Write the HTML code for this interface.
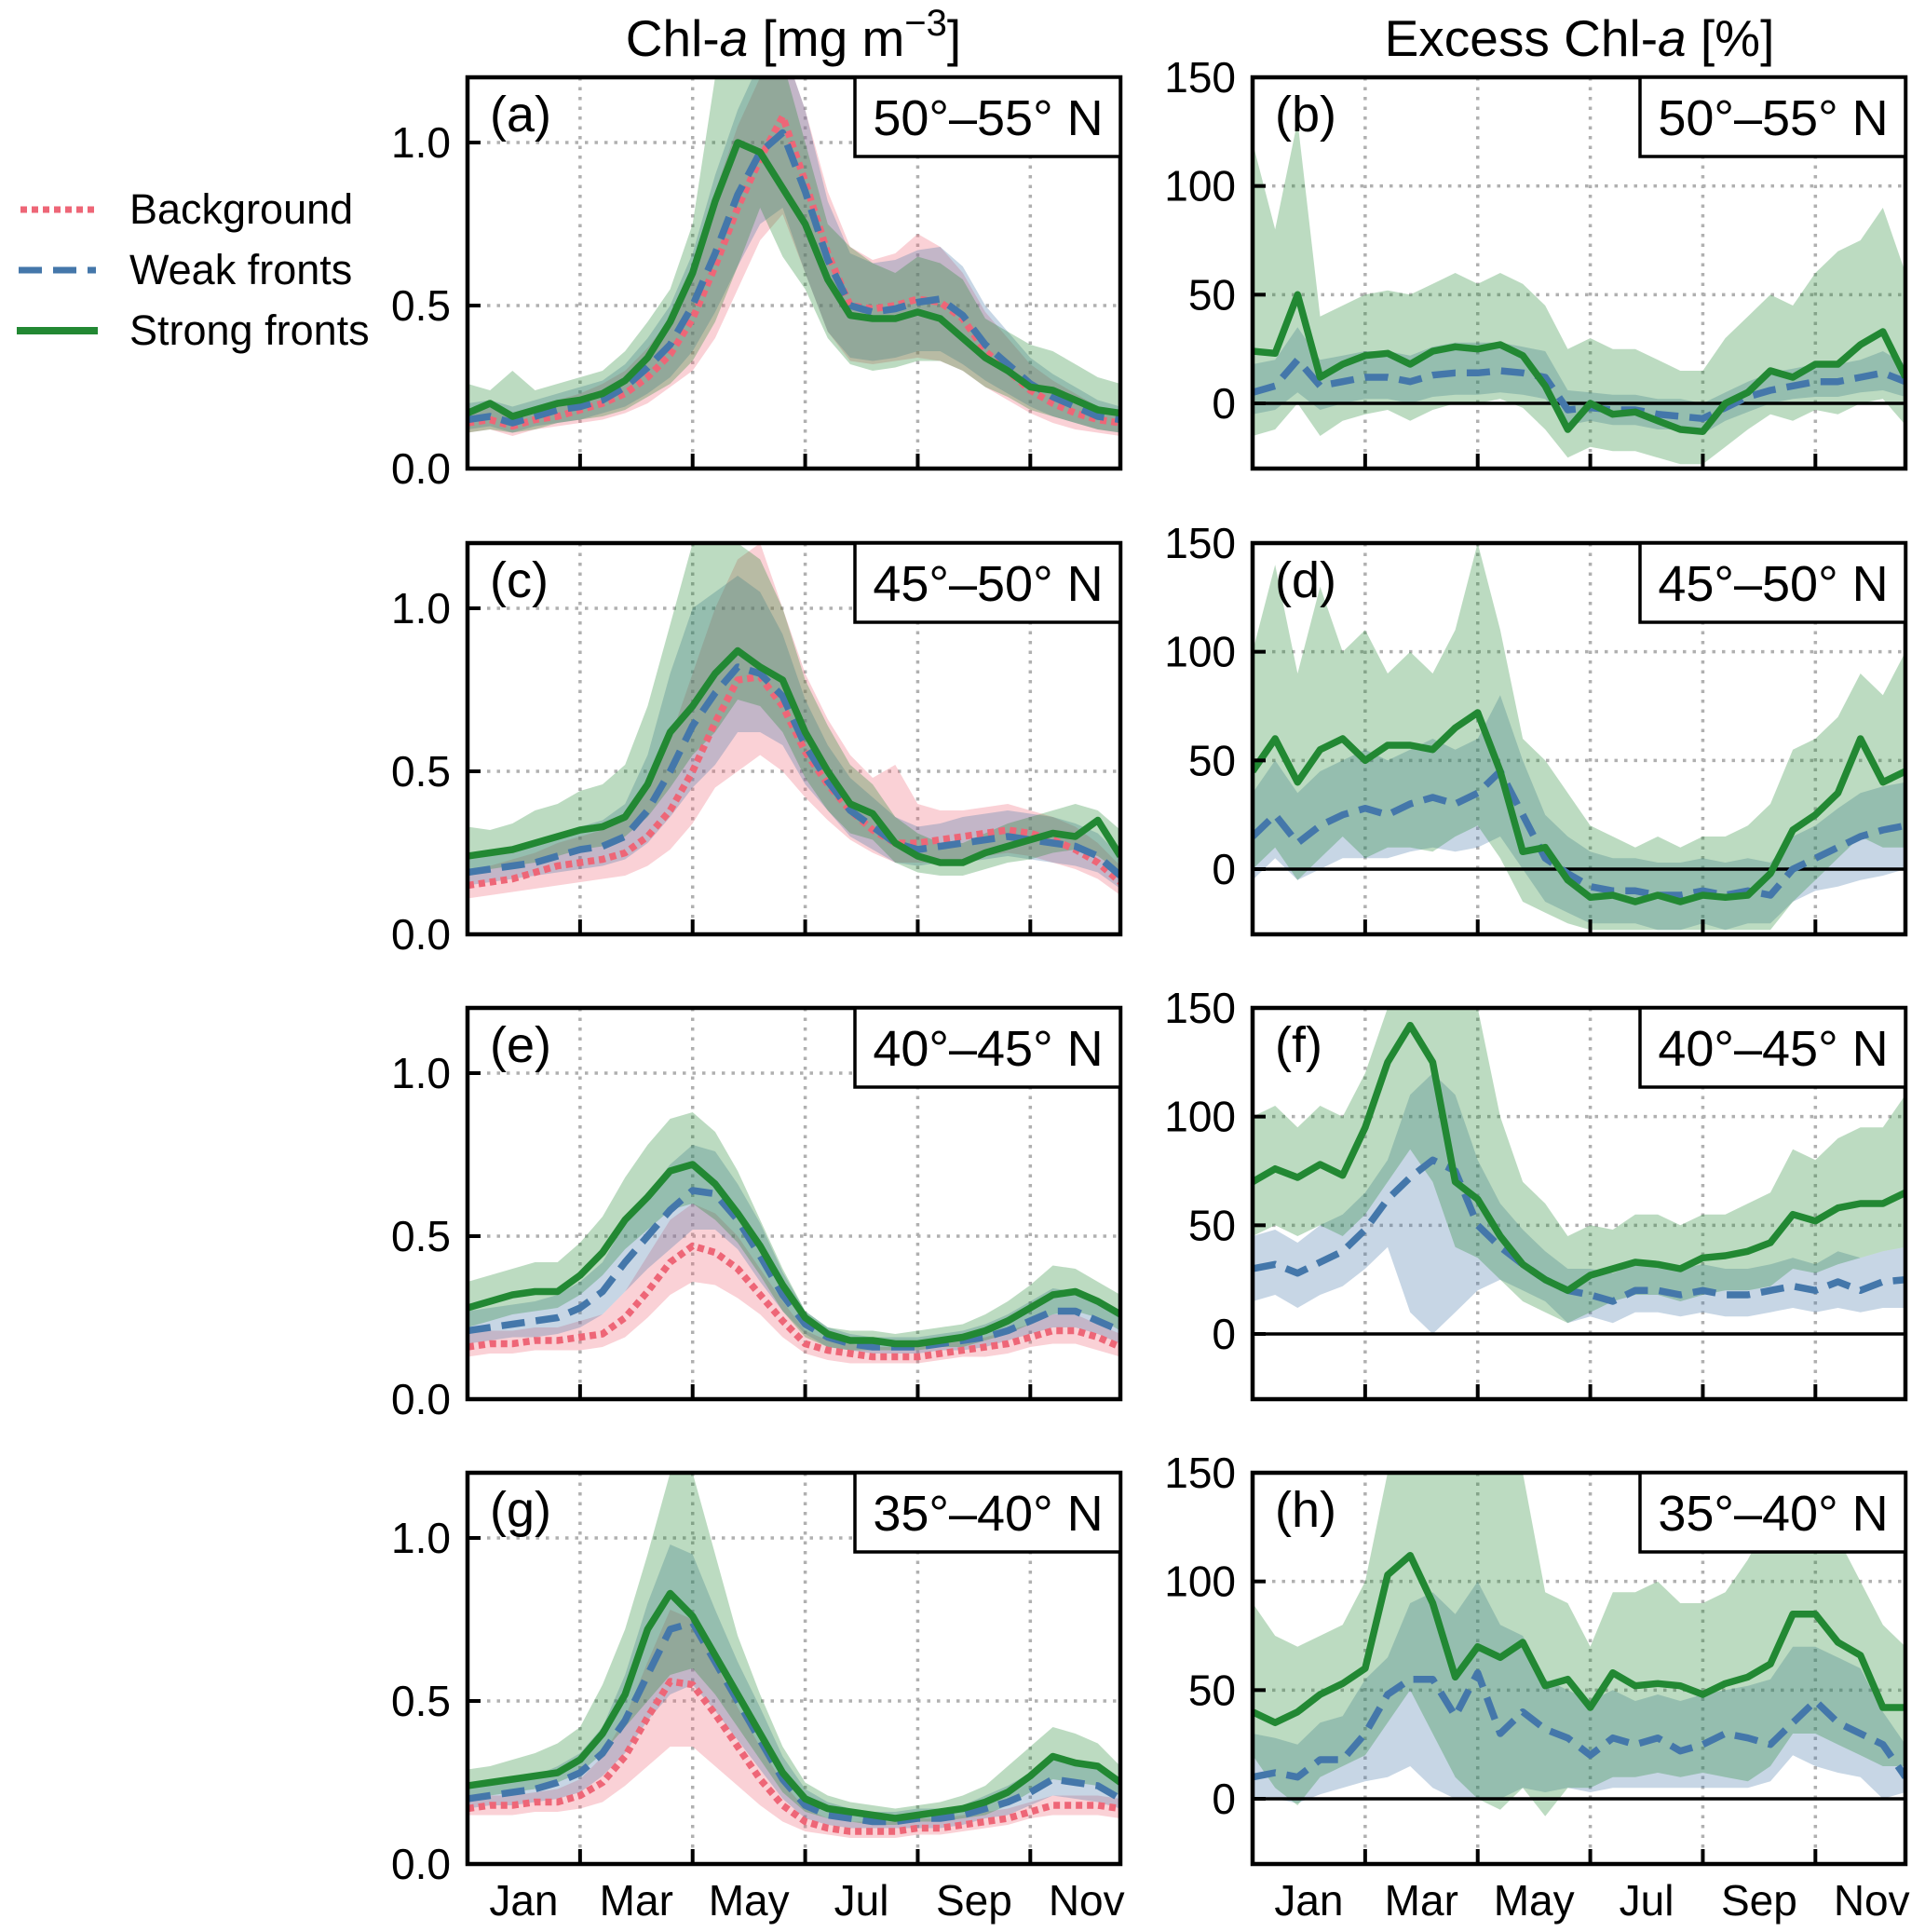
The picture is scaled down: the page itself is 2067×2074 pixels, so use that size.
<!DOCTYPE html>
<html><head><meta charset="utf-8">
<style>
html,body{margin:0;padding:0;background:#fff;}
svg{display:block;font-family:"Liberation Sans",sans-serif;}
</style></head>
<body>
<svg id="fig" width="2067" height="2074" viewBox="0 0 2067 2074" xmlns="http://www.w3.org/2000/svg">
<text x="852" y="60" font-size="55" text-anchor="middle">Chl-<tspan font-style="italic">a</tspan> [mg m<tspan dy="-22" font-size="40">−3</tspan><tspan dy="22">]</tspan></text>
<text x="1696" y="60" font-size="55" text-anchor="middle">Excess Chl-<tspan font-style="italic">a</tspan> [%]</text>
<g>
<line x1="22" y1="225" x2="102" y2="225" stroke="#ee6677" stroke-width="7" stroke-dasharray="7,5"/>
<text x="139" y="240" font-size="45">Background</text>
<line x1="20" y1="290" x2="103" y2="290" stroke="#4477aa" stroke-width="7" stroke-dasharray="25,12"/>
<text x="139" y="305" font-size="45">Weak fronts</text>
<line x1="18" y1="355" x2="105" y2="355" stroke="#228833" stroke-width="8"/>
<text x="139" y="370" font-size="45">Strong fronts</text>
</g>
</svg>
<script>
// ---------- data ----------
const monthLabels = ["Jan","Mar","May","Jul","Sep","Nov"];
const monthLabelIdx = [2.5,7.5,12.5,17.5,22.5,27.5];
const monthTickIdx = [5,10,15,20,25];
const leftTicks = [0,0.5,1.0];
const leftTickLabels = ["0.0","0.5","1.0"];
const rightTicks = [0,50,100,150];
const rightTickLabels = ["0","50","100","150"];
const panelLetters = ["a","b","c","d","e","f","g","h"];
const regions = ["50°–55° N","45°–50° N","40°–45° N","35°–40° N"];

// panel a
const aG=[.17,.20,.16,.18,.20,.21,.23,.27,.34,.45,.60,.82,1.0,.97,.86,.75,.58,.47,.46,.46,.48,.46,.40,.34,.30,.25,.24,.21,.18,.17];
const aW=[.15,.16,.14,.16,.18,.19,.21,.25,.31,.38,.50,.66,.84,.97,1.03,.85,.64,.50,.48,.49,.51,.52,.47,.38,.32,.26,.22,.19,.16,.15];
const aB=[.14,.15,.13,.15,.16,.18,.20,.23,.28,.35,.46,.62,.80,.95,1.08,.88,.66,.50,.49,.50,.52,.51,.46,.36,.30,.24,.20,.17,.15,.14];
const aGlo=[.11,.12,.11,.12,.14,.15,.16,.18,.22,.26,.33,.45,.62,.80,.65,.55,.40,.32,.30,.31,.33,.33,.30,.25,.22,.18,.16,.14,.12,.11];
const aGhi=[.26,.24,.30,.24,.26,.28,.30,.36,.45,.55,.75,1.2,1.3,1.3,1.25,1.0,.75,.68,.63,.60,.65,.63,.58,.46,.42,.38,.36,.32,.28,.26];
const aWlo=[.12,.13,.11,.13,.14,.15,.17,.19,.23,.28,.36,.48,.62,.75,.80,.60,.42,.34,.33,.34,.36,.36,.32,.27,.23,.19,.16,.14,.12,.11];
const aWhi=[.20,.21,.19,.21,.23,.25,.27,.32,.40,.50,.66,.90,1.1,1.25,1.3,1.1,.82,.66,.63,.64,.67,.68,.62,.50,.42,.34,.29,.25,.21,.19];
const aBlo=[.11,.12,.10,.12,.13,.14,.15,.17,.20,.25,.30,.40,.55,.70,.78,.60,.42,.33,.32,.33,.34,.33,.30,.25,.21,.17,.14,.12,.11,.10];
const aBhi=[.18,.19,.17,.19,.21,.23,.26,.30,.37,.46,.62,.85,1.05,1.2,1.3,1.1,.85,.68,.64,.66,.72,.68,.60,.48,.40,.32,.27,.23,.19,.18];
// panel c
const cG=[.24,.25,.26,.28,.30,.32,.33,.36,.46,.62,.70,.80,.87,.82,.78,.62,.50,.40,.37,.28,.24,.22,.22,.25,.27,.29,.31,.30,.35,.24];
const cW=[.19,.20,.21,.22,.24,.26,.27,.30,.38,.50,.64,.74,.82,.80,.73,.58,.47,.38,.33,.28,.26,.27,.28,.29,.30,.29,.28,.27,.24,.18];
const cB=[.15,.16,.17,.19,.21,.22,.23,.25,.30,.38,.50,.65,.78,.79,.70,.56,.46,.38,.32,.28,.28,.29,.30,.31,.32,.31,.29,.26,.22,.16];
const cGlo=[.19,.20,.21,.22,.24,.26,.27,.30,.36,.45,.55,.62,.72,.70,.62,.48,.38,.31,.29,.22,.19,.18,.18,.20,.22,.23,.25,.26,.24,.19];
const cGhi=[.33,.32,.34,.38,.40,.44,.46,.52,.70,.95,1.2,1.2,1.2,1.15,1.0,.78,.64,.52,.46,.36,.31,.28,.28,.31,.34,.36,.38,.40,.38,.32];
const cWlo=[.15,.16,.17,.18,.19,.20,.21,.23,.28,.36,.45,.52,.62,.62,.58,.46,.38,.30,.26,.22,.21,.22,.22,.23,.24,.23,.22,.21,.19,.14];
const cWhi=[.25,.26,.27,.29,.31,.33,.35,.40,.55,.80,1.0,1.05,1.1,1.05,.92,.72,.58,.48,.42,.36,.33,.34,.36,.37,.38,.37,.36,.34,.31,.24];
const cBlo=[.11,.12,.13,.14,.15,.16,.17,.18,.21,.26,.34,.45,.50,.55,.50,.42,.35,.29,.25,.22,.22,.22,.23,.24,.25,.24,.22,.20,.17,.12];
const cBhi=[.20,.21,.23,.25,.28,.30,.32,.36,.45,.60,.80,1.0,1.15,1.2,1.0,.80,.66,.55,.48,.52,.40,.38,.38,.39,.40,.38,.36,.33,.28,.21];
// panel e
const eG=[.28,.30,.32,.33,.33,.38,.45,.55,.62,.70,.72,.66,.57,.47,.35,.25,.20,.18,.18,.17,.17,.18,.19,.21,.24,.28,.32,.33,.30,.26];
const eW=[.21,.22,.23,.24,.25,.28,.33,.42,.50,.58,.64,.63,.55,.44,.32,.23,.19,.17,.16,.16,.16,.17,.18,.19,.21,.24,.27,.27,.24,.21];
const eB=[.16,.17,.17,.18,.18,.19,.20,.25,.33,.42,.47,.45,.40,.32,.24,.17,.15,.14,.13,.13,.13,.14,.15,.16,.17,.19,.21,.21,.19,.16];
const eGlo=[.22,.24,.26,.27,.28,.32,.38,.46,.52,.58,.60,.55,.48,.38,.27,.19,.16,.15,.15,.15,.15,.16,.16,.18,.20,.23,.26,.27,.25,.21];
const eGhi=[.36,.38,.40,.42,.42,.48,.56,.68,.78,.86,.88,.82,.70,.55,.40,.27,.22,.21,.21,.20,.21,.22,.23,.26,.30,.35,.41,.40,.36,.32];
const eWlo=[.17,.18,.19,.19,.20,.22,.26,.33,.40,.46,.52,.52,.46,.36,.27,.20,.16,.15,.14,.14,.14,.15,.15,.16,.18,.20,.22,.22,.20,.17];
const eWhi=[.27,.28,.29,.30,.32,.36,.42,.54,.63,.72,.78,.76,.66,.54,.39,.27,.22,.20,.19,.19,.19,.20,.21,.23,.26,.30,.34,.33,.30,.26];
const eBlo=[.13,.14,.14,.15,.15,.15,.16,.19,.25,.32,.36,.35,.31,.26,.19,.14,.12,.11,.11,.11,.11,.12,.13,.13,.14,.16,.17,.17,.15,.13];
const eBhi=[.20,.21,.21,.22,.22,.24,.26,.33,.44,.55,.60,.57,.50,.40,.30,.21,.18,.17,.16,.16,.16,.17,.18,.19,.21,.23,.26,.26,.23,.20];
// panel g
const gG=[.24,.25,.26,.27,.28,.32,.40,.52,.72,.83,.76,.64,.52,.40,.28,.20,.17,.16,.15,.14,.15,.16,.17,.19,.22,.27,.33,.31,.30,.25];
const gW=[.20,.21,.22,.23,.25,.28,.34,.44,.58,.72,.74,.62,.50,.38,.26,.18,.15,.14,.13,.13,.14,.14,.15,.17,.19,.22,.26,.25,.24,.20];
const gB=[.17,.18,.18,.19,.19,.21,.25,.33,.45,.56,.55,.46,.36,.26,.18,.13,.11,.10,.10,.10,.11,.11,.12,.13,.14,.16,.18,.18,.18,.17];
const gGlo=[.20,.21,.22,.23,.25,.28,.34,.42,.50,.58,.60,.52,.42,.32,.22,.16,.14,.13,.12,.12,.13,.13,.14,.15,.18,.22,.26,.25,.24,.21];
const gGhi=[.29,.30,.32,.34,.37,.42,.55,.72,.95,1.2,1.2,.95,.70,.52,.36,.25,.21,.19,.18,.17,.18,.19,.21,.24,.30,.36,.42,.40,.37,.30];
const gWlo=[.17,.18,.18,.19,.20,.22,.27,.34,.44,.52,.55,.47,.38,.29,.20,.14,.12,.11,.11,.11,.11,.11,.12,.14,.15,.18,.21,.20,.19,.17];
const gWhi=[.24,.25,.26,.27,.30,.34,.42,.58,.80,.98,.95,.78,.62,.48,.33,.23,.19,.17,.16,.16,.17,.17,.18,.21,.24,.28,.32,.31,.29,.24];
const gBlo=[.15,.15,.15,.16,.16,.17,.19,.24,.30,.36,.36,.30,.24,.18,.13,.10,.09,.08,.08,.08,.09,.09,.10,.11,.12,.14,.15,.15,.15,.14];
const gBhi=[.20,.21,.21,.22,.23,.26,.33,.45,.62,.78,.75,.62,.48,.36,.25,.17,.14,.13,.13,.13,.14,.14,.15,.16,.17,.19,.21,.21,.21,.20];
// panel b
const bG=[24,23,50,12,18,22,23,18,24,26,25,27,22,8,-12,0,-5,-4,-8,-12,-13,0,5,15,12,18,18,27,33,12];
const bW=[5,8,20,8,10,12,12,10,13,14,14,15,14,12,-3,-2,-3,-3,-5,-6,-7,-2,3,6,8,10,10,12,14,10];
const bGlo=[-15,-12,0,-15,-8,-5,-3,-8,-3,0,0,2,-2,-12,-25,-20,-22,-22,-25,-28,-28,-20,-12,-5,-8,-3,-5,0,2,-10];
const bGhi=[120,80,130,40,45,50,52,50,55,60,55,60,55,45,25,30,25,25,20,15,15,30,40,50,45,60,70,75,90,60];
const bWlo=[-5,-3,5,-3,0,2,2,0,3,4,4,5,4,2,-10,-8,-10,-10,-12,-12,-14,-8,-4,0,2,3,3,5,6,3];
const bWhi=[18,20,35,20,22,24,24,22,26,28,28,28,26,24,6,5,4,4,2,2,0,5,10,14,16,18,18,20,24,18];
// panel d
const dG=[45,60,40,55,60,50,57,57,55,65,72,45,8,10,-5,-13,-12,-15,-12,-15,-12,-13,-12,-2,18,25,35,60,40,45];
const dW=[15,25,12,20,25,28,25,30,33,30,35,45,25,5,-2,-8,-10,-10,-12,-12,-10,-12,-10,-12,0,5,10,15,18,20];
const dGlo=[0,10,-5,5,15,5,10,10,8,15,20,5,-15,-20,-25,-28,-28,-28,-28,-28,-28,-28,-28,-28,-15,-5,5,15,10,10];
const dGhi=[100,140,90,130,100,110,90,100,90,110,150,110,60,50,35,20,15,10,15,10,15,15,20,30,55,60,70,90,80,100];
const dWlo=[-5,5,-5,0,5,5,5,8,10,8,10,15,0,-15,-20,-25,-25,-25,-28,-28,-25,-28,-25,-25,-15,-10,-8,-5,-3,0];
const dWhi=[35,50,35,45,50,55,50,55,60,55,60,80,50,25,15,8,5,5,3,3,5,3,5,3,15,20,28,35,38,40];
// panel f
const fG=[70,76,72,78,73,95,125,142,125,70,62,45,32,25,20,27,30,33,32,30,35,36,38,42,55,52,58,60,60,65];
const fW=[30,32,28,33,38,48,62,72,80,75,50,40,32,25,20,18,15,20,20,18,20,18,18,20,22,20,24,20,24,25];
const fGlo=[45,50,45,50,45,55,70,85,70,40,35,25,15,10,5,10,15,18,18,15,18,20,20,22,30,28,32,35,38,40];
const fGhi=[100,105,95,105,100,120,150,150,150,150,150,100,70,60,45,50,48,55,55,50,55,55,60,65,85,80,90,95,95,110];
const fWlo=[15,18,12,18,22,30,40,10,0,10,20,25,20,15,5,8,5,10,10,8,10,8,8,10,12,10,12,10,12,12];
const fWhi=[45,48,42,50,55,65,80,110,120,110,80,60,48,38,30,30,28,32,32,30,32,30,30,32,35,32,38,35,38,40];
// panel h
const hG=[40,35,40,48,53,60,103,112,90,56,70,65,72,52,55,42,58,52,53,52,48,53,56,62,85,85,72,66,42,42];
const hW=[10,12,10,18,18,30,48,55,55,38,58,30,40,32,28,20,28,25,28,22,25,30,28,25,35,45,35,30,25,10];
const hGlo=[20,5,-3,10,15,20,35,50,30,10,0,-5,5,-8,5,5,10,10,12,10,12,10,8,15,30,30,25,20,15,15];
const hGhi=[90,75,70,75,80,100,150,150,150,150,150,150,150,95,90,70,95,95,100,90,90,95,110,130,150,140,120,100,80,70];
const hWlo=[0,0,-2,2,5,8,10,15,5,0,0,0,5,3,5,3,5,5,5,5,5,5,5,8,20,15,12,10,0,3];
const hWhi=[30,28,25,35,38,55,65,90,95,85,100,80,75,55,50,45,50,45,48,45,48,50,52,55,70,70,65,60,40,25];

// ---------- drawing ----------
const NS="http://www.w3.org/2000/svg";
const svg=document.getElementById("fig");
const COL={B:"#ee6677",W:"#4477aa",G:"#228833"};
const LX=[502,1345], PW=701, PH=420, ROWY=[83,583,1082,1581];
function mk(tag,attrs,parent){const e=document.createElementNS(NS,tag);for(const k in attrs)e.setAttribute(k,attrs[k]);(parent||svg).appendChild(e);return e;}

const leftPanels=[
 {G:aG,W:aW,B:aB,Glo:aGlo,Ghi:aGhi,Wlo:aWlo,Whi:aWhi,Blo:aBlo,Bhi:aBhi},
 {G:cG,W:cW,B:cB,Glo:cGlo,Ghi:cGhi,Wlo:cWlo,Whi:cWhi,Blo:cBlo,Bhi:cBhi},
 {G:eG,W:eW,B:eB,Glo:eGlo,Ghi:eGhi,Wlo:eWlo,Whi:eWhi,Blo:eBlo,Bhi:eBhi},
 {G:gG,W:gW,B:gB,Glo:gGlo,Ghi:gGhi,Wlo:gWlo,Whi:gWhi,Blo:gBlo,Bhi:gBhi}];
const rightPanels=[
 {G:bG,W:bW,Glo:bGlo,Ghi:bGhi,Wlo:bWlo,Whi:bWhi},
 {G:dG,W:dW,Glo:dGlo,Ghi:dGhi,Wlo:dWlo,Whi:dWhi},
 {G:fG,W:fW,Glo:fGlo,Ghi:fGhi,Wlo:fWlo,Whi:fWhi},
 {G:hG,W:hW,Glo:hGlo,Ghi:hGhi,Wlo:hWlo,Whi:hWhi}];

function drawPanel(col,row,d,ymin,ymax,ticks,tickLabels,letter,region){
  const x0=LX[col], y0=ROWY[row];
  const g=mk("g",{});
  
  
  const n=d.G.length;
  const xs=i=>x0+i*PW/(n-1);
  const ys=v=>y0+PH-(v-ymin)/(ymax-ymin)*PH;
  const cid="clip"+letter;
  const cp=mk("clipPath",{id:cid},g);
  mk("rect",{x:x0,y:y0,width:PW,height:PH},cp);
  monthTickIdx.forEach(t=>{const l=mk("line",{x1:xs(t),x2:xs(t),y1:y0,y2:y0+PH,stroke:"#b0b0b0","stroke-width":3.5,"stroke-dasharray":"3.5,7"},g);
    });
  ticks.forEach(t=>{if(t<=ymin||t>=ymax||t===0&&col===1)return;const l=mk("line",{x1:x0,x2:x0+PW,y1:ys(t),y2:ys(t),stroke:"#b0b0b0","stroke-width":3.5,"stroke-dasharray":"3.5,7"},g);
    });
  const data=mk("g",{"clip-path":"url(#"+cid+")"},g);
  const order=col===0?["B","W","G"]:["W","G"];
  order.forEach(s=>{
    const lo=d[s+"lo"],hi=d[s+"hi"];
    let p="";hi.forEach((v,i)=>p+=(i?"L":"M")+xs(i).toFixed(1)+","+ys(v).toFixed(1));
    for(let i=lo.length-1;i>=0;i--)p+="L"+xs(i).toFixed(1)+","+ys(lo[i]).toFixed(1);
    const b=mk("path",{d:p+"Z",fill:COL[s],"fill-opacity":0.3,stroke:"none"},data);
    
    
  });
  if(col===1){const z=mk("line",{x1:x0,x2:x0+PW,y1:ys(0),y2:ys(0),stroke:"#000","stroke-width":3.5},data);
    }
  order.forEach(s=>{
    let p="";d[s].forEach((v,i)=>p+=(i?"L":"M")+xs(i).toFixed(1)+","+ys(v).toFixed(1));
    const dash=s==="B"?"7,5":s==="W"?"25,12":"none";
    const l=mk("path",{d:p,fill:"none",stroke:COL[s],"stroke-width":7.5,"stroke-dasharray":dash,"stroke-linejoin":"round"},data);
    
    
  });
  const f=mk("rect",{x:x0,y:y0,width:PW,height:PH,fill:"none",stroke:"#000","stroke-width":4.5},g);
  
  monthTickIdx.forEach(t=>{const l=mk("line",{x1:xs(t),x2:xs(t),y1:y0+PH,y2:y0+PH-16,stroke:"#000","stroke-width":4},g);
    });
  ticks.forEach((t,k)=>{if(t<ymin||t>ymax)return;
    const l=mk("line",{x1:x0,x2:x0+14,y1:ys(t),y2:ys(t),stroke:"#000","stroke-width":4},g);
    
    const tx=mk("text",{x:x0-18,y:ys(t)+16,"font-size":46,"text-anchor":"end"},g);tx.textContent=tickLabels[k];
    });
  if(row===3){monthLabels.forEach((m,k)=>{const tx=mk("text",{x:xs(monthLabelIdx[k]),y:2056,"font-size":46,"text-anchor":"middle"},g);tx.textContent=m;
    });}
  const lt=mk("text",{x:x0+24,y:y0+58,"font-size":54},g);lt.textContent="("+letter+")";
  
  const bx=mk("rect",{x:x0+PW-285,y:y0,width:285,height:85,fill:"#fff",stroke:"#000","stroke-width":3.5},g);
  
  const rt=mk("text",{x:x0+PW-142,y:y0+62,"font-size":54,"text-anchor":"middle"},g);rt.textContent=region;
  
}
for(let r=0;r<4;r++){
  drawPanel(0,r,leftPanels[r],0,1.2,leftTicks,leftTickLabels,panelLetters[2*r],regions[r]);
  drawPanel(1,r,rightPanels[r],-30,150,rightTicks,rightTickLabels,panelLetters[2*r+1],regions[r]);
}
</script>
</body></html>
